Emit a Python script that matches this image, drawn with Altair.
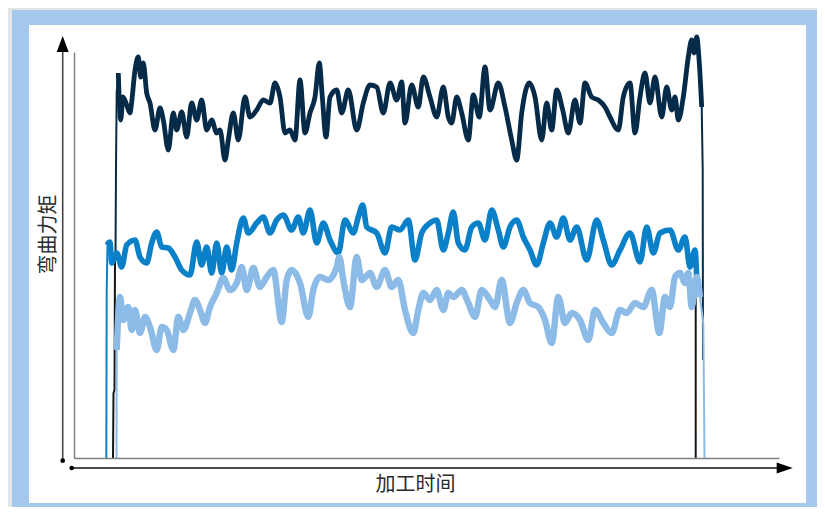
import altair as alt
import pandas as pd

# ---- data (time units, bending-moment units) ----
navy_t = [41.5, 42, 42.7, 44.3, 46.7, 49, 52.7, 56, 57.7, 61, 64.3, 66.7, 69.3, 72.7, 76, 81, 86, 89.3, 94.3, 99.3,
          102.7, 107.7, 112.7, 117.7, 122.7, 127.7, 132.7, 137.7, 142.7, 146, 151, 154.3, 159.3, 164.3, 171, 176,
          182.7, 189.3, 196, 201, 206, 211, 216, 221, 226, 231, 236, 241, 245.3, 248.3, 252, 256, 262.7, 267.7,
          274.3, 282.7, 289.3, 296, 302.7, 309.3, 316, 322.7, 327.7, 331, 337.7, 344.3, 349.3, 356, 362.7, 369.3,
          374.3, 377.7, 382.7, 387.7, 394.3, 399.3, 405.3, 411, 416, 424.3, 431, 437.7, 442.7, 447.7, 455.3, 461,
          467.7, 472.7, 477.7, 482.7, 488.7, 494.3, 501, 506, 511, 517.7, 524.3, 531, 536, 544.3, 549.3, 556, 561,
          566, 571, 576, 581, 587.7, 592.7, 597.7, 601, 604.3, 609.3, 614.3, 617.7, 620, 622.7, 625.3, 627.7, 628.7,
          629]
navy_v = [203, 291, 366, 385, 338, 361, 353, 345, 356, 388, 401, 381, 395, 365, 355, 328, 350, 338, 308, 345,
          328, 346, 321, 355, 338, 358, 328, 338, 325, 328, 298, 318, 345, 318, 361, 341,
          348, 358, 355, 375, 361, 325, 328, 318, 378, 325, 345, 361, 395, 361, 321, 361, 368, 345,
          368, 328, 355, 373, 371, 345, 375, 358, 376, 335, 373, 351, 381, 361, 341, 371,
          341, 335, 361, 345, 318, 363, 341, 391, 348, 375, 351, 318, 298, 345, 375, 361,
          318, 355, 328, 368, 348, 325, 358, 335, 375, 361, 358, 351, 341, 328, 361, 375, 325,
          361, 385, 355, 381, 341, 371, 348, 361, 338, 361, 401, 418, 405, 421, 395, 351, 288,
          98]

mid_t = [32.3, 32.7, 33.5, 34.3, 36, 37.7, 42.7, 47.7, 52.7, 61, 66, 72.7, 77.7, 82.7, 87.7, 94.3, 101, 107.7, 116,
         122.7, 127.7, 132.7, 137.7, 142.7, 147.7, 152.7, 157.7, 162.7, 169.3, 174.3, 182.7, 189.3, 196, 202.7,
         209.3, 217.7, 224.3, 229.3, 236, 242.7, 249.3, 256, 264.3, 271, 279.3, 284.3, 288.7, 292.7, 302.7, 311,
         317.7, 326, 334.3, 341, 347.7, 356, 362.7, 369.3, 374.3, 379.3, 384.3, 391, 397.7, 404.3, 411, 417.7,
         424.3, 429.3, 436, 442.7, 449.3, 456, 462.7, 469.3, 476, 482.7, 489.3, 496, 502.7, 512.7, 522.7, 529.3,
         537.7, 546, 556, 566, 572.7, 579.3, 586, 596, 604.3, 611, 616, 621, 622.7]
mid_v = [0, 168, 213, 215, 216, 195, 205, 191, 213, 218, 201, 195, 215, 226, 211, 210, 201, 188, 183,
         216, 193, 211, 185, 215, 185, 211, 188, 215, 240, 225, 235, 241, 225, 238,
         243, 228, 241, 225, 248, 215, 235, 218, 205, 238, 225, 241, 253, 231, 225, 205,
         231, 228, 238, 198, 225, 235, 238, 208, 225, 246, 215, 208, 231, 235, 218, 248,
         228, 211, 231, 238, 221, 208, 193, 215, 235, 221, 240, 218, 231, 198, 238, 218,
         193, 208, 225, 196, 231, 205, 225, 228, 208, 221, 191, 208, 181]

light_t = [42.5, 42.7, 46, 49.3, 54.3, 57.7, 61, 66, 71, 76, 82.7, 87.7, 92.7, 99.3, 104.3, 109.3, 116, 121, 126,
           131, 136, 142.7, 149.3, 156, 162.7, 167.7, 172.7, 179.3, 186, 192.7, 199.3, 207.7, 212.7, 217.7, 226,
           234.3, 239.3, 246, 254.3, 262.7, 265.3, 269.3, 276, 282.7, 287.7, 296, 302.7, 311, 317.7, 324.3, 331,
           339.3, 344.3, 349.3, 356, 362.7, 369.3, 374.3, 379.3, 387.7, 394.3, 401, 407.7, 416, 421, 427.7, 436,
           442.7, 449.3, 456, 464.3, 471, 477.7, 484.3, 491, 497.7, 506, 514.3, 521, 529.3, 537.7, 546, 552.7, 561,
           569.3, 577.7, 585.3, 591, 596, 601, 606, 611, 614.3, 617.7, 622.7, 626, 629.3, 630, 630.5]
light_v = [0, 108, 161, 138, 151, 128, 148, 125, 141, 131, 108, 131, 128, 108, 141, 128, 145, 158, 148,
           135, 151, 165, 180, 168, 175, 191, 168, 190, 171, 181, 188, 136, 178, 188, 175,
           141, 168, 181, 178, 191, 201, 178, 151, 201, 178, 185, 171, 188, 171, 178, 148,
           125, 148, 165, 158, 168, 148, 165, 161, 168, 155, 141, 168, 158, 151, 178, 135,
           155, 168, 155, 151, 138, 115, 161, 135, 145, 138, 118, 148, 135, 125, 148, 145, 155,
           151, 168, 125, 161, 151, 181, 185, 175, 185, 151, 181, 161, 135, 58, 0]

black_t = [39, 39.5, 40.5, 41, 621.7, 621.7]
black_v = [0, 65, 68, 203, 166, 0]
black_seg = ["a", "a", "a", "a", "b", "b"]

X_TITLE = "加工时间"
Y_TITLE = "弯曲力矩"

FONT = "Noto Sans CJK SC"
NAVY = "#062b48"
MID = "#0a80c8"
LIGHT = "#8bbbe6"
FRAME = "#a4c9ec"


def frame(t, v, **extra):
    d = pd.DataFrame({"t": t, "v": v})
    d["i"] = range(len(d))
    for k, val in extra.items():
        d[k] = val
    return d


xs = alt.Scale(domain=[0, 705], nice=False, zero=False)
ys = alt.Scale(domain=[0, 406], nice=False, zero=False)

x_axis = alt.Axis(domain=True, domainColor="#808080", domainWidth=1.5, ticks=False, labels=False,
                  grid=False, title=X_TITLE, titleFont=FONT, titleFontSize=20, titleFontWeight="normal",
                  titleColor="#2a2a2a", titleX=341, titleY=26, titleAlign="center",
                  titleBaseline="middle", zindex=1)
y_axis = alt.Axis(domain=True, domainColor="#808080", domainWidth=1.5, ticks=False, labels=False,
                  grid=False, title=Y_TITLE, titleFont=FONT, titleFontSize=20, titleFontWeight="normal",
                  titleColor="#2a2a2a", titleX=-26, titleY=182, titleAngle=270, titleAlign="center",
                  titleBaseline="middle", zindex=1)

one = pd.DataFrame({"k": [0]})

blue_bg = alt.Chart(one).mark_rect(color=FRAME).encode(
    x=alt.value(-62), x2=alt.value(750), y=alt.value(-42), y2=alt.value(470))
white_bg = alt.Chart(one).mark_rect(color="white").encode(
    x=alt.value(-45), x2=alt.value(732), y=alt.value(-27), y2=alt.value(451))


def line(df, color, width, interp, detail=None):
    enc = dict(
        x=alt.X("t:Q", scale=xs, axis=x_axis),
        y=alt.Y("v:Q", scale=ys, axis=y_axis),
        order="i:Q",
    )
    if detail:
        enc["detail"] = detail
    return alt.Chart(df).mark_line(color=color, strokeWidth=width, strokeJoin="round",
                                   interpolate=interp, clip=False).encode(**enc)


def series(t, v, color, width, rise, drop):
    """thin vertical start/end edges, thick noisy body"""
    n = len(t)
    body = line(frame(t[rise:n - drop], v[rise:n - drop]), color, width, "monotone")
    layers = [body]
    if rise:
        layers.append(line(frame(t[:rise + 1], v[:rise + 1]), color, 2, "linear"))
    if drop:
        layers.append(line(frame(t[n - drop - 1:], v[n - drop - 1:]), color, 2, "linear"))
    return layers


black = line(frame(black_t, black_v, seg=black_seg), "#151515", 2, "linear", detail="seg:N")
navy = series(navy_t, navy_v, NAVY, 4.8, 3, 2)
mid = series(mid_t, mid_v, MID, 5.6, 2, 0)
light = series(light_t, light_v, LIGHT, 6.4, 1, 3)

# arrows
y_arrow = alt.Chart(one).mark_rule(color="#444444", strokeWidth=1.6).encode(
    x=alt.value(-11.3), y=alt.value(408.7), y2=alt.value(0))
x_arrow = alt.Chart(one).mark_rule(color="#111111", strokeWidth=1.6).encode(
    x=alt.value(-2.3), x2=alt.value(703), y=alt.value(416))
y_head = alt.Chart(one).mark_point(shape="M0,-1L0.75,1L-0.75,1Z", filled=True, color="#000000",
                                   opacity=1, size=256).encode(x=alt.value(-11.3), y=alt.value(-8))
x_head = alt.Chart(one).mark_point(shape="M1,0L-1,0.7L-1,-0.7Z", filled=True, color="#000000",
                                   opacity=1, size=256).encode(x=alt.value(710.7), y=alt.value(416))
dot1 = alt.Chart(one).mark_circle(color="#000000", opacity=1, size=22).encode(
    x=alt.value(-11.3), y=alt.value(408.7))
dot2 = alt.Chart(one).mark_circle(color="#000000", opacity=1, size=22).encode(
    x=alt.value(-2.3), y=alt.value(416))

chart = alt.layer(
    blue_bg, white_bg, black, *navy, *mid, *light, y_arrow, x_arrow, y_head, x_head, dot1, dot2
).properties(
    width=705, height=406,
    background="#e4e5e7",
    padding={"left": 66, "top": 44, "right": 38, "bottom": 49},
    autosize=alt.AutoSizeParams(type="none"),
).configure_view(stroke=None)

chart.save("out.html", embed_options={"renderer": "svg", "actions": False})
